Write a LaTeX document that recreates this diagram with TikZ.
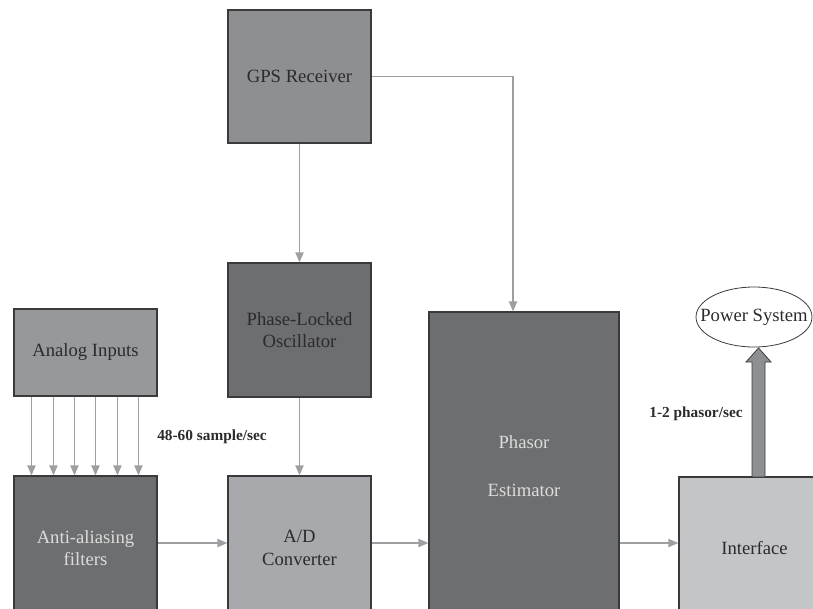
\documentclass[tikz,border=0pt]{standalone}
\usepackage{fontspec}
\setmainfont{Liberation Serif}
\usetikzlibrary{arrows.meta}
\definecolor{boxline}{HTML}{3A3A3C}
\definecolor{wire}{HTML}{9D9FA2}
\definecolor{gpsfill}{HTML}{8E8F91}
\definecolor{darkfill}{HTML}{6D6E70}
\definecolor{analogfill}{HTML}{97989A}
\definecolor{adcfill}{HTML}{A7A9AC}
\definecolor{ifacefill}{HTML}{C4C5C7}
\definecolor{lighttext}{HTML}{DCDCDC}
\definecolor{darktext}{HTML}{2B2B2D}
\tikzset{
  block/.style 2 args={draw=boxline, line width=0.8pt, rectangle, align=center,
    font=\fontsize{14pt}{17pt}\selectfont, text=darktext,
    minimum width=#1*0.75pt, minimum height=#2*0.75pt, inner sep=0pt},
  conn/.style={draw=wire, line width=1.4pt,
    -{Triangle[length=7.5pt,width=6pt,fill=wire]}},
  rate/.style={font=\fontsize{11.5pt}{13pt}\selectfont\bfseries, text=darktext}
}
\begin{document}
\begin{tikzpicture}[x=0.75pt,y=-0.75pt]
\useasboundingbox (0,0) rectangle (813,608);
\clip (0,0) rectangle (813,608);

% processing blocks
\node[block={143}{133}, fill=gpsfill] (gps) at (299.5,76.5) {GPS Receiver};
\node[block={143}{134}, fill=darkfill] (plo) at (299.5,330) {Phase-Locked\\Oscillator};
\node[block={143}{87}, fill=analogfill] (analog) at (85.5,352.5) {Analog Inputs};
\node[block={143}{144}, fill=darkfill, text=lighttext] (aaf) at (85.5,548) {Anti-aliasing\\filters};
\node[block={143}{144}, fill=adcfill] (adc) at (299.5,548) {A/D\\Converter};
\node[block={190}{308}, fill=darkfill, text=lighttext] (pe) at (524,466) {Phasor\\[19pt]Estimator};
\node[block={151}{143}, fill=ifacefill] (iface) at (754.5,548.5) {Interface};

% power system: text with a drawn outline around it
\node[font=\fontsize{14pt}{17pt}\selectfont, text=darktext, inner sep=0pt] (ps) at (754,317) {Power System};
\draw[boxline, line width=0.6pt] (ps.center) ellipse [x radius=58*0.75pt, y radius=30*0.75pt];

% signal paths
\draw[conn] (gps) -- (plo);
\draw[conn] (plo) -- (adc);
\draw[conn] (gps.east) -| ([xshift=-8.25pt]pe.north);
\foreach \dx in {18,40,61,82,104,125}
  \draw[conn] ([xshift=\dx*0.75pt]analog.south west) -- ([xshift=\dx*0.75pt]aaf.north west);
\draw[conn] ([yshift=3.75pt]aaf.east) -- ([yshift=3.75pt]adc.west);
\draw[conn] ([yshift=3.75pt]adc.east) -- ([yshift=3.75pt]adc.east -| pe.west);
\draw[conn] ([yshift=4.1pt]iface.west -| pe.east) -- ([yshift=4.1pt]iface.west);

% wide output arrow towards the power system
\draw[boxline, line width=0.6pt, fill=gpsfill]
  (752,477) -- (752,362) -- (746,362) -- (758.5,348) -- (771,362)
  -- (765,362) -- (765,477) -- cycle;

% rate labels
\node[rate] (srate) at (212,437) {48-60 sample/sec};
\node[rate] (prate) at (696,414) {1-2 phasor/sec};
\end{tikzpicture}
\end{document}
